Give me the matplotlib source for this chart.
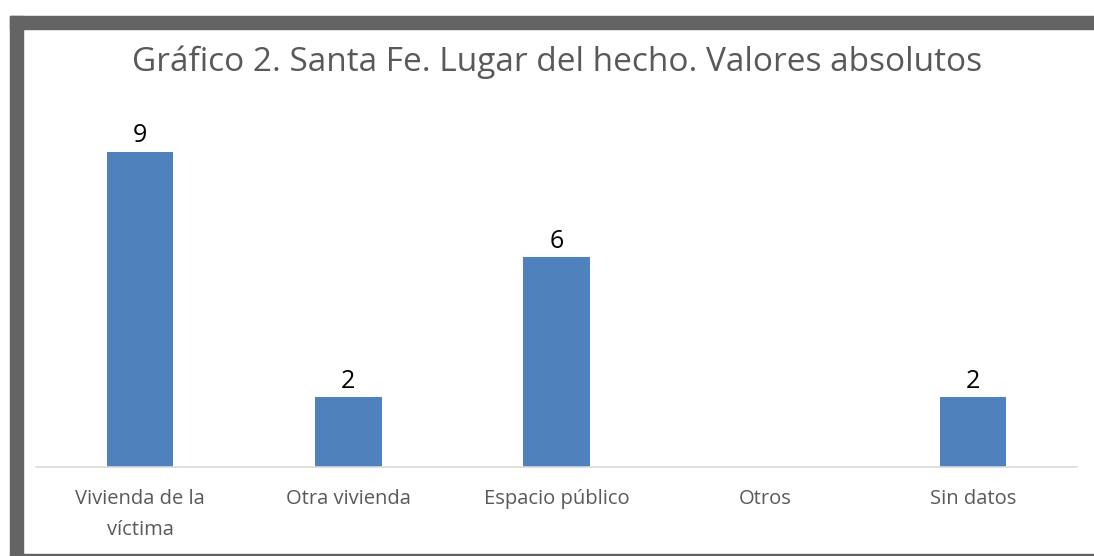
import matplotlib.pyplot as plt
from matplotlib.patches import Rectangle

# Lugar del hecho - Santa Fe
categorias = ['Vivienda de la\nvíctima', 'Otra vivienda', 'Espacio público', 'Otros', 'Sin datos']
valores = [9, 2, 6, 0, 2]
etiquetas = ['9', '2', '6', '', '2']

W, H = 1094, 556
fig = plt.figure(figsize=(W / 100, H / 100), dpi=100)
fig.patch.set_facecolor('white')

# marco gris (borde superior e izquierdo)
fig.patches.append(Rectangle((10 / W, 0), 13 / W, (H - 16) / H, transform=fig.transFigure,
                             color='#646464', zorder=0))
fig.patches.append(Rectangle((10 / W, (H - 29) / H), (W - 10) / W, 13 / H, transform=fig.transFigure,
                             color='#646464', zorder=0))
fig.patches.append(Rectangle((10 / W, 0), (W - 10) / W, 2 / H, transform=fig.transFigure,
                             color='#646464', zorder=0))

ax = fig.add_axes([36 / W, (H - 467) / H, (1077 - 36) / W, 350 / H])
x = range(len(categorias))
bars = ax.bar(x, valores, width=0.32, color='#4f81bd', zorder=2)

for b, t in zip(bars, etiquetas):
    ax.text(b.get_x() + b.get_width() / 2, b.get_height() + 0.1, t,
            ha='center', va='bottom', fontsize=18, color='black', family='Open Sans')

ax.set_xlim(-0.5, len(categorias) - 0.5)
ax.set_ylim(0, 10)
ax.set_xticks(list(x))
ax.set_xticklabels(categorias, fontsize=14.5, color='#595959', family='Open Sans', linespacing=1.7)
ax.tick_params(axis='x', length=0, pad=16)
ax.set_yticks([])
for s in ['top', 'right', 'left']:
    ax.spines[s].set_visible(False)
ax.spines['bottom'].set_color('#d9d9d9')
ax.spines['bottom'].set_linewidth(1.2)

fig.text(557 / W, (H - 62) / H, 'Gráfico 2. Santa Fe. Lugar del hecho. Valores absolutos',
         ha='center', va='center', fontsize=24, color='#595959', family='Open Sans')

plt.savefig('out.png', dpi=100)
